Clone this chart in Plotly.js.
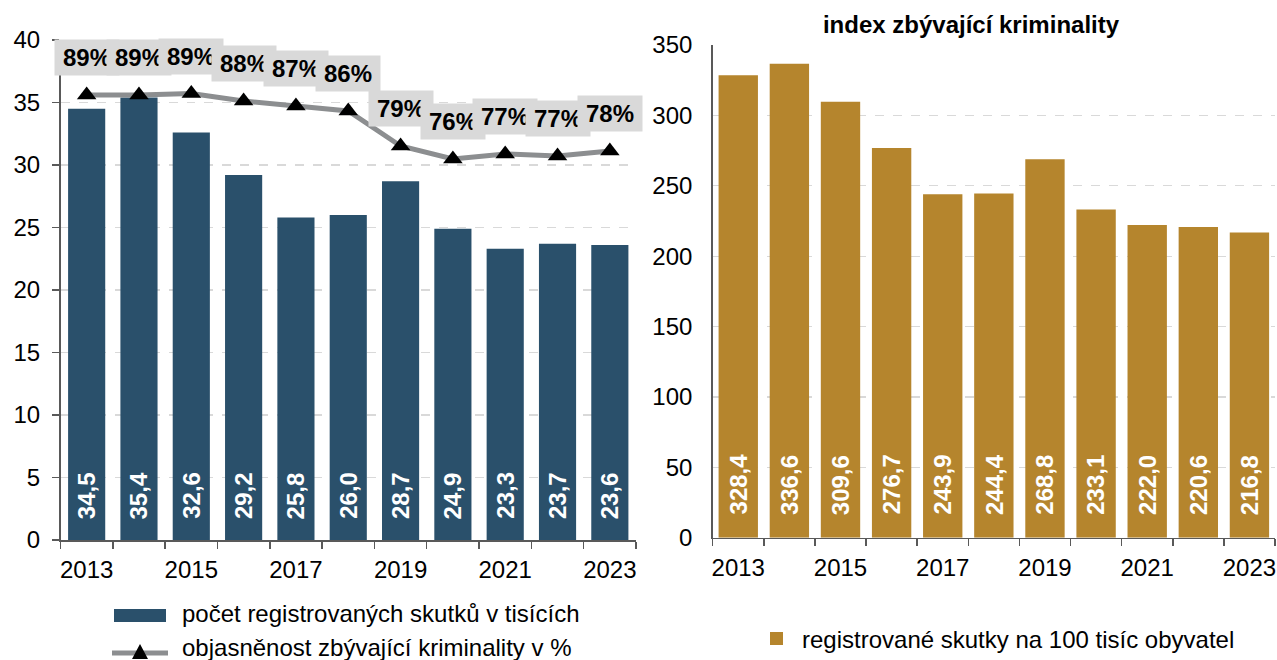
<!DOCTYPE html>
<html>
<head>
<meta charset="utf-8">
<script src="https://cdn.plot.ly/plotly-3.0.1.min.js"></script>
<style>html,body{margin:0;padding:0;background:#fff;}#chart{width:1277px;height:660px;}</style>
</head>
<body>
<div id="chart"></div>
<script>
// ---- data ----
const years = [2013, 2014, 2015, 2016, 2017, 2018, 2019, 2020, 2021, 2022, 2023];
const registeredThousands = [34.5, 35.4, 32.6, 29.2, 25.8, 26.0, 28.7, 24.9, 23.3, 23.7, 23.6];
const clearancePct = [89.0, 89.0, 89.3, 87.8, 86.8, 85.8, 78.8, 76.2, 77.2, 76.8, 77.8];
const per100k = [328.4, 336.6, 309.6, 276.7, 243.9, 244.4, 268.8, 233.1, 222.0, 220.6, 216.8];
const xTickYears = [2013, 2015, 2017, 2019, 2021, 2023];
const nameRegistered = 'počet registrovaných skutků v tisících';
const nameClearance = 'objasněnost zbývající kriminality v %';
const namePer100k = 'registrované skutky na 100 tisíc obyvatel';
const titleRight = 'index zbývající kriminality';

// ---- styling ----
const W = 1277, H = 660;
const px = v => v / W;
const py = v => 1 - v / H;
const BLUE = '#2A506B', GOLD = '#B5852D', AXIS = '#595959', GRID = '#D9D9D9', LINEG = '#8C8E90';
const FONT = 'Liberation Sans, Arial, sans-serif';
const FS = 24;
const fmt = v => v.toFixed(1).replace('.', ',');

const traces = [
  {type: 'bar', x: years, y: registeredThousands, xaxis: 'x', yaxis: 'y', name: nameRegistered,
   marker: {color: BLUE}, width: 0.71, hoverinfo: 'skip'},
  {type: 'scatter', mode: 'lines+markers', x: years, y: clearancePct, xaxis: 'x', yaxis: 'y3', name: nameClearance,
   line: {color: LINEG, width: 5}, marker: {symbol: 'triangle-up', size: 17, color: '#000'}, hoverinfo: 'skip', cliponaxis: false},
  {type: 'bar', x: years, y: per100k, xaxis: 'x2', yaxis: 'y2', name: namePer100k,
   marker: {color: GOLD}, width: 0.77, hoverinfo: 'skip'}
];

const xCommon = {
  range: [2012.5, 2023.5], tickmode: 'array', tickvals: xTickYears, ticktext: xTickYears.map(String),
  ticks: '', showline: true, linecolor: AXIS, linewidth: 1.5, showgrid: false, zeroline: false,
  ticklabelstandoff: 8, ticklabeloverflow: 'allow',
  minor: {tickmode: 'linear', tick0: 2012.5, dtick: 1, ticks: 'outside', ticklen: 7, tickcolor: AXIS, tickwidth: 1.5, showgrid: false},
  fixedrange: true
};

const annotations = [];
years.forEach((yr, i) => {
  annotations.push({x: yr, y: 0, xref: 'x', yref: 'y', text: '<b>' + fmt(registeredThousands[i]) + '</b>',
    textangle: -90, yanchor: 'bottom', xanchor: 'center', yshift: 19, showarrow: false,
    font: {color: '#fff', size: FS, family: FONT}});
  annotations.push({x: yr, y: 0, xref: 'x2', yref: 'y2', text: '<b>' + fmt(per100k[i]) + '</b>',
    textangle: -90, yanchor: 'bottom', xanchor: 'center', yshift: 21, showarrow: false,
    font: {color: '#fff', size: FS, family: FONT}});
});
years.forEach((yr, i) => {
  annotations.push({x: yr, y: clearancePct[i], xref: 'x', yref: 'y3', text: '<b>' + Math.round(clearancePct[i]) + '%</b>',
    yshift: 37, showarrow: false, bgcolor: GRID, width: 62, height: 33, borderpad: 1, align: 'center', valign: 'middle',
    font: {color: '#000', size: FS, family: FONT}});
});
// legends
annotations.push({x: px(180), y: py(613), xref: 'paper', yref: 'paper', xanchor: 'left', yanchor: 'middle',
  text: nameRegistered, showarrow: false, font: {size: FS, color: '#000', family: FONT}});
annotations.push({x: px(180), y: py(647), xref: 'paper', yref: 'paper', xanchor: 'left', yanchor: 'middle',
  text: nameClearance, showarrow: false, font: {size: FS, color: '#000', family: FONT}});
annotations.push({x: px(800), y: py(639), xref: 'paper', yref: 'paper', xanchor: 'left', yanchor: 'middle',
  text: namePer100k, showarrow: false, font: {size: FS, color: '#000', family: FONT}});

const shapes = [
  {type: 'rect', xref: 'paper', yref: 'paper', x0: px(114), x1: px(166), y0: py(622), y1: py(609), fillcolor: BLUE, line: {width: 0}},
  {type: 'line', xref: 'paper', yref: 'paper', x0: px(112), x1: px(168), y0: py(653), y1: py(653), line: {color: LINEG, width: 5}},
  {type: 'path', xref: 'paper', yref: 'paper', xsizemode: 'pixel', ysizemode: 'pixel', xanchor: px(140), yanchor: py(652),
   path: 'M-8,-7 L8,-7 L0,8 Z', fillcolor: '#000', line: {width: 0}},
  {type: 'rect', xref: 'paper', yref: 'paper', x0: px(770), x1: px(783), y0: py(645), y1: py(632), fillcolor: GOLD, line: {width: 0}}
];

const layout = {
  width: W, height: H, margin: {l: 0, r: 0, t: 0, b: 0, pad: 0},
  paper_bgcolor: '#fff', plot_bgcolor: 'rgba(0,0,0,0)', showlegend: false,
  font: {family: FONT, size: FS, color: '#000'},
  title: {text: '<b>' + titleRight + '</b>', x: px(971), xanchor: 'center', y: py(25), yanchor: 'middle', xref: 'paper', yref: 'paper',
    font: {size: FS, color: '#000', family: FONT}},
  xaxis: Object.assign({}, xCommon, {domain: [px(60.5), px(636)], anchor: 'y'}),
  yaxis: {domain: [py(540), py(40)], range: [0, 40], dtick: 5, tick0: 0, showline: true, linecolor: AXIS, linewidth: 1.5,
    ticks: 'outside', ticklen: 7, tickcolor: AXIS, tickwidth: 1.5, showgrid: true, gridcolor: GRID, griddash: 'dash', gridwidth: 1.2,
    zeroline: false, anchor: 'x', ticklabelstandoff: 7, ticklabeloverflow: 'allow', fixedrange: true},
  yaxis3: {overlaying: 'y', range: [0, 100], visible: false, anchor: 'x', fixedrange: true},
  xaxis2: Object.assign({}, xCommon, {domain: [px(712.7), px(1275)], anchor: 'y2'}),
  yaxis2: {domain: [py(537.7), py(44.9)], range: [0, 350], dtick: 50, tick0: 0, showline: true, linecolor: AXIS, linewidth: 1.5,
    ticks: '', showgrid: true, gridcolor: GRID, griddash: 'dash', gridwidth: 1.2, zeroline: false, anchor: 'x2',
    ticklabelstandoff: 14, ticklabeloverflow: 'allow', fixedrange: true},
  annotations: annotations,
  shapes: shapes
};

Plotly.newPlot('chart', traces, layout, {displayModeBar: false, staticPlot: true});
</script>
</body>
</html>
